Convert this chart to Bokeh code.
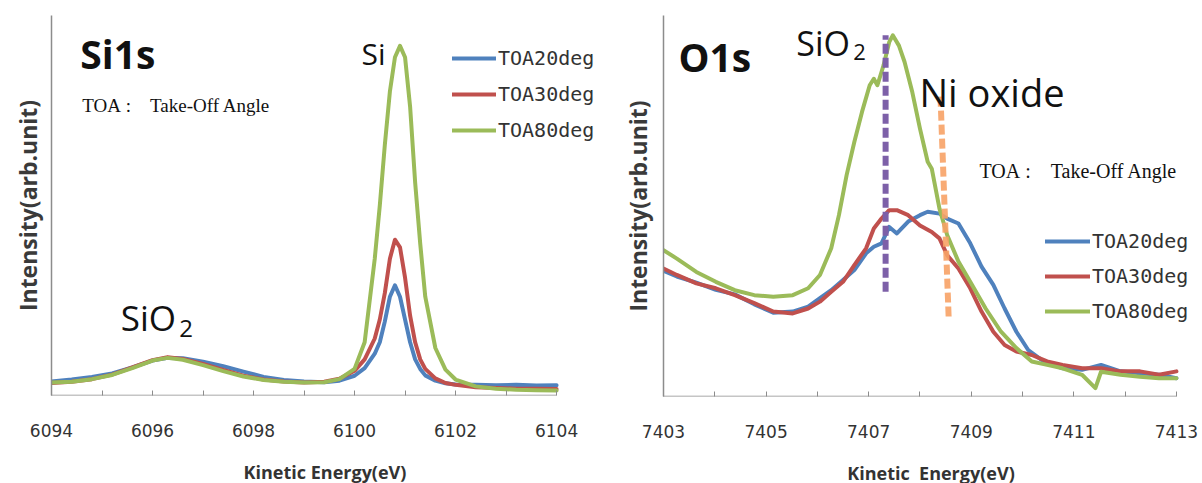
from bokeh.plotting import figure
from bokeh.models import Range1d, FixedTicker, Label, Legend, LegendItem
from bokeh.layouts import row
from bokeh.embed import file_html
from bokeh.resources import INLINE

# ---------------- Si1s data ----------------
si_x = [6094.0, 6094.4, 6094.8, 6095.2, 6095.6, 6096.0, 6096.3, 6096.6, 6097.0, 6097.4,
        6097.8, 6098.2, 6098.6, 6099.0, 6099.4, 6099.7, 6100.0, 6100.2, 6100.4, 6100.5,
        6100.6, 6100.7, 6100.8, 6100.9, 6101.0, 6101.1, 6101.2, 6101.3, 6101.4, 6101.6,
        6101.8, 6102.0, 6102.4, 6102.8, 6103.2, 6103.6, 6104.0]
si_toa20 = [3.7, 4.2, 4.9, 5.8, 7.4, 9.2, 9.9, 9.8, 8.9, 7.7,
            6.3, 4.9, 4.1, 3.7, 3.5, 3.9, 5.2, 7.2, 11.0, 14.0,
            19.5, 26.0, 29.0, 26.0, 20.0, 14.0, 9.5, 7.0, 5.3, 3.9,
            3.2, 2.9, 2.8, 2.7, 2.8, 2.6, 2.7]
si_toa30 = [3.3, 3.6, 4.3, 5.5, 7.4, 9.3, 10.1, 9.6, 8.3, 6.7,
            5.2, 4.2, 3.7, 3.4, 3.6, 4.4, 6.5, 9.5, 15.0, 20.0,
            27.0, 36.0, 41.0, 39.0, 31.0, 21.0, 14.0, 9.5, 7.0, 4.5,
            3.3, 2.8, 2.2, 2.0, 1.8, 1.8, 1.7]
si_toa80 = [3.4, 3.6, 4.3, 5.4, 7.2, 9.2, 9.9, 9.4, 8.0, 6.4,
            5.0, 4.1, 3.6, 3.4, 3.5, 4.3, 7.0, 14.0, 36.0, 50.0,
            66.0, 80.0, 89.0, 92.0, 89.0, 76.0, 56.0, 40.0, 26.0, 12.5,
            6.8, 4.2, 2.4, 1.8, 1.5, 1.4, 1.3]
si_ticks = [6094, 6096, 6098, 6100, 6102, 6104]
si_minor = [6095, 6097, 6099, 6101, 6103]

# ---------------- O1s data ----------------
o_x80 = [7403.00, 7403.26, 7403.64, 7404.02, 7404.39, 7404.77, 7405.14, 7405.52, 7405.82, 7406.05,
         7406.27, 7406.42, 7406.57, 7406.72, 7406.87, 7407.02, 7407.10, 7407.17, 7407.29, 7407.40,
         7407.47, 7407.59, 7407.70, 7407.85, 7408.00, 7408.15, 7408.23, 7408.38, 7408.53, 7408.75,
         7408.98, 7409.28, 7409.58, 7409.88, 7410.18, 7410.48, 7410.78, 7411.16, 7411.42, 7411.53,
         7411.91, 7412.29, 7412.66, 7413.00]
o_toa80 = [38.4, 36.2, 32.7, 30.1, 27.9, 26.6, 26.2, 26.6, 28.4, 31.9,
           38.9, 47.6, 58.1, 66.8, 74.7, 81.7, 83.4, 81.7, 86.9, 93.0,
           94.8, 92.1, 87.8, 79.9, 70.3, 61.6, 59.8, 49.3, 42.4, 35.4,
           30.1, 23.1, 17.0, 12.7, 9.2, 8.3, 7.4, 5.7, 2.2, 6.5,
           5.7, 5.2, 4.8, 4.8]
o_x30 = [7403.00, 7403.26, 7403.64, 7404.02, 7404.39, 7404.77, 7405.14, 7405.52, 7405.82, 7406.05,
         7406.27, 7406.50, 7406.72, 7406.95, 7407.10, 7407.25, 7407.40, 7407.55, 7407.77, 7408.00,
         7408.23, 7408.38, 7408.53, 7408.75, 7408.98, 7409.20, 7409.43, 7409.65, 7409.88, 7410.18,
         7410.48, 7410.78, 7411.16, 7411.53, 7411.91, 7412.29, 7412.66, 7413.00]
o_toa30 = [33.6, 31.9, 29.7, 28.4, 26.6, 24.5, 22.3, 21.8, 23.1, 24.9,
           27.5, 30.1, 34.5, 38.9, 44.1, 46.7, 48.9, 48.9, 47.6, 44.9,
           43.2, 41.5, 37.1, 33.6, 28.4, 22.3, 17.0, 13.5, 11.8, 10.9,
           9.2, 8.3, 7.4, 7.4, 6.6, 6.6, 5.7, 6.6]
o_x20 = [7403.00, 7403.26, 7403.64, 7404.02, 7404.39, 7404.77, 7405.14, 7405.52, 7405.82, 7406.05,
         7406.27, 7406.50, 7406.72, 7406.95, 7407.10, 7407.25, 7407.40, 7407.55, 7407.77, 7408.00,
         7408.15, 7408.38, 7408.53, 7408.75, 7408.98, 7409.20, 7409.43, 7409.65, 7409.88, 7410.11,
         7410.41, 7410.78, 7411.16, 7411.53, 7411.91, 7412.29, 7412.66, 7413.00]
o_toa20 = [33.0, 31.5, 29.9, 28.0, 26.8, 24.2, 22.0, 22.3, 23.6, 25.8,
           27.9, 30.6, 33.2, 37.6, 39.3, 40.2, 44.5, 42.8, 45.9, 47.6,
           48.5, 48.0, 46.7, 45.4, 40.2, 34.1, 29.3, 23.1, 17.0, 12.2,
           9.2, 7.4, 7.0, 8.3, 6.6, 6.1, 5.7, 4.8]
o_ticks = [7403, 7405, 7407, 7409, 7411, 7413]
o_minor = [7404, 7406, 7408, 7410, 7412]

# marker lines (eV, intensity)
sio2_mark_x = [7407.33, 7407.33]
sio2_mark_y = [27.5, 94.8]
niox_mark_x = [7408.40, 7408.56]
niox_mark_y = [78.7, 20.5]

series_names = ["TOA20deg", "TOA30deg", "TOA80deg"]
colors = ["#4F81BD", "#C0504D", "#9BBB59"]

AX = "#8c8c8c"
TXT = "#333333"
LBL_FONT = "Open Sans"
NB = "\u00a0"
TOA_TEXT = "TOA" + NB + ":" + NB * 4 + "Take-Off Angle"


def style(p, ticks, minor, xlo, xhi, ystand):
    p.xgrid.visible = False
    p.ygrid.visible = False
    p.outline_line_color = None
    p.background_fill_color = "white"
    p.border_fill_color = "white"
    xa = p.xaxis[0]
    xa.ticker = FixedTicker(ticks=ticks, minor_ticks=minor)
    xa.axis_line_color = None
    xa.major_tick_in = 5
    xa.major_tick_out = 0
    xa.minor_tick_in = 5
    xa.minor_tick_out = 0
    xa.major_tick_line_color = AX
    xa.minor_tick_line_color = AX
    xa.major_label_text_font = "DejaVu Sans"
    xa.major_label_text_font_size = "17px"
    xa.major_label_text_color = TXT
    xa.major_label_standoff = 28
    xa.axis_label = "Kinetic Energy(eV)"
    xa.axis_label_text_font = LBL_FONT
    xa.axis_label_text_font_style = "bold"
    xa.axis_label_text_font_size = "18px"
    xa.axis_label_text_color = TXT
    xa.axis_label_standoff = 20
    ya = p.yaxis[0]
    ya.ticker = FixedTicker(ticks=[])
    ya.major_label_text_font_size = "0px"
    ya.major_tick_in = 0
    ya.major_tick_out = 0
    ya.minor_tick_in = 0
    ya.minor_tick_out = 0
    ya.axis_line_color = AX
    ya.axis_line_width = 1.5
    ya.axis_label = "Intensity(arb.unit)"
    ya.axis_label_text_font = LBL_FONT
    ya.axis_label_text_font_style = "bold"
    ya.axis_label_text_font_size = "23px"
    ya.axis_label_text_color = "#3a3a3a"
    ya.axis_label_standoff = ystand
    # x axis baseline spanning only the labelled range
    p.line([xlo, xhi], [0, 0], line_color=AX, line_width=1.5)


def lab(p, x, y, text, size, font="Open Sans", bold=False, color="#111111"):
    p.add_layout(Label(x=x, y=y, text=text, text_font=font, text_font_size=size,
                       text_font_style="bold" if bold else "normal",
                       text_baseline="alphabetic", text_align="left", text_color=color))


# ---------------- left figure ----------------
p1 = figure(frame_width=547, frame_height=380, min_border_left=51, min_border_right=2,
            min_border_top=15, min_border_bottom=85,
            x_range=Range1d(6094, 6104.83), y_range=Range1d(0, 100),
            output_backend="svg", toolbar_location=None)
style(p1, si_ticks, si_minor, 6094, 6104, 8)
r1 = []
for ys, c in zip([si_toa20, si_toa30, si_toa80], colors):
    r1.append(p1.line(si_x, ys, line_color=c, line_width=4, line_join="round", line_cap="round"))
leg1 = Legend(items=[LegendItem(label=n, renderers=[r]) for n, r in zip(series_names, r1)],
              location=(401, 253), glyph_width=44, glyph_height=20, label_height=20,
              label_standoff=2, spacing=12, padding=0, margin=0,
              label_text_font="DejaVu Sans Mono", label_text_font_size="20px",
              label_text_color=TXT, background_fill_alpha=0, border_line_color=None)
p1.add_layout(leg1, "center")
lab(p1, 6094.57, 90.0, "Si1s", "39px", bold=True)
lab(p1, 6094.61, 76.3, TOA_TEXT, "19px", font="Liberation Serif")
lab(p1, 6100.14, 90.0, "Si", "30px")
lab(p1, 6095.37, 20.5, "SiO", "35px")
lab(p1, 6096.53, 17.6, "2", "24px")

# ---------------- right figure ----------------
p2 = figure(frame_width=535, frame_height=381, min_border_left=63, min_border_right=2,
            min_border_top=12, min_border_bottom=87,
            x_range=Range1d(7403, 7413.43), y_range=Range1d(0, 100),
            output_backend="svg", toolbar_location=None)
style(p2, o_ticks, o_minor, 7403, 7413, 10)
p2.xaxis[0].axis_label = "Kinetic" + NB + NB + "Energy(eV)"
r2 = []
for xs, ys, c in zip([o_x20, o_x30, o_x80], [o_toa20, o_toa30, o_toa80], colors):
    r2.append(p2.line(xs, ys, line_color=c, line_width=4, line_join="round", line_cap="round"))
p2.line(sio2_mark_x, sio2_mark_y, line_color="#7D60A8", line_width=6, line_dash="10 4")
p2.line(niox_mark_x, niox_mark_y, line_color="#F7A266", line_width=6, line_dash="10 4", line_alpha=0.9)
leg2 = Legend(items=[LegendItem(label=n, renderers=[r]) for n, r in zip(series_names, r2)],
              location=(382, 73), glyph_width=45, glyph_height=20, label_height=20,
              label_standoff=2, spacing=11, padding=0, margin=0,
              label_text_font="DejaVu Sans Mono", label_text_font_size="20px",
              label_text_color=TXT, background_fill_alpha=0, border_line_color=None)
p2.add_layout(leg2, "center")
lab(p2, 7403.29, 89.2, "O1s", "39px", bold=True)
lab(p2, 7405.59, 92.7, "SiO", "34px")
lab(p2, 7406.70, 90.5, "2", "22px")
lab(p2, 7407.99, 80.0, "Ni oxide", "38px")
lab(p2, 7409.16, 59.3, TOA_TEXT, "20px", font="Liberation Serif")

layout = row(p1, p2)
open("out.html", "w").write(file_html(layout, INLINE))
